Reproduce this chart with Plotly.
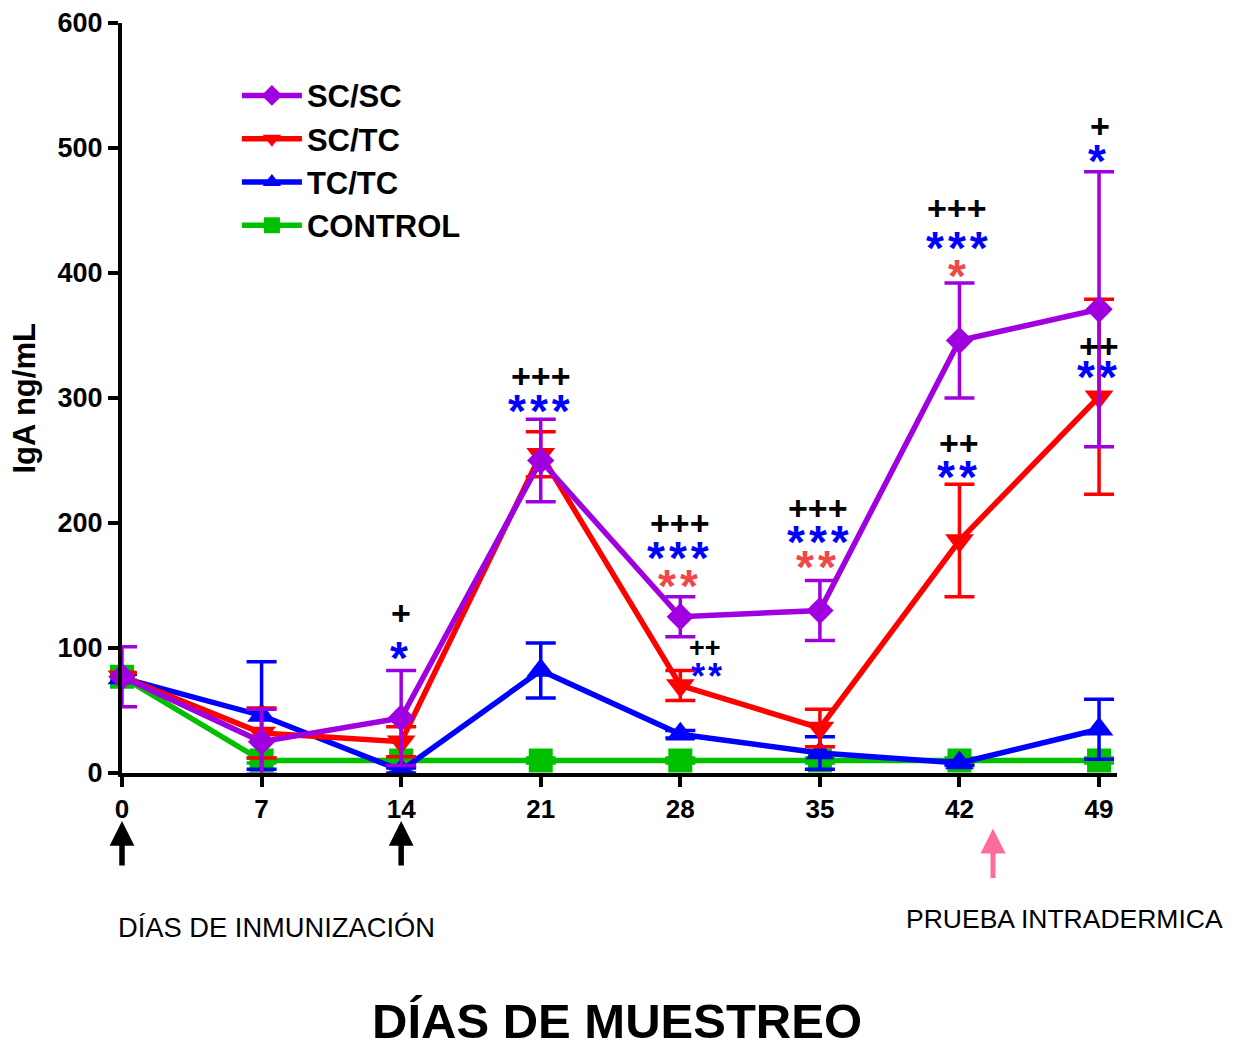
import plotly.graph_objects as go

days = [0, 7, 14, 21, 28, 35, 42, 49]
tick_labels = ["0", "7", "14", "21", "28", "35", "42", "49"]
y_ticks = [0, 100, 200, 300, 400, 500, 600]

sc_sc = [77, 25, 44, 250, 125, 130, 346, 371]
sc_sc_err = [24, 26, 38, 33, 16, 24, 46, 110]
sc_tc = [77, 32, 25, 255, 70, 36, 186, 301]
sc_tc_err = [3, 20, 12, 18, 12, 15, 45, 78]
tc_tc = [76, 46, 2, 82, 31, 16, 8, 35]
tc_tc_err = [3, 43, 2, 22, 3, 13, 2, 24]
control = [77, 10, 10, 10, 10, 10, 10, 10]
control_err = [3, 2, 2, 2, 2, 2, 2, 2]

# significance labels
sig_days = [14, 14, 21, 21, 28, 28, 28, 29.25, 29.4, 34.9, 35, 34.9,
            41.9, 42, 42, 42, 42, 49.05, 49, 49, 49]
sig_vals = [128, 100, 318, 298, 200, 180, 158, 100, 84, 212, 193, 173,
            452, 428, 406, 264, 245, 518, 498, 342, 325]
sig_text = ["+", "*", "+++", "***", "+++", "***", "**", "++", "**", "+++", "***", "**",
            "+++", "***", "*", "++", "**", "+", "*", "++", "**"]
sig_color = ["black", "blue", "black", "blue", "black", "blue", "#f04848", "black", "blue",
             "black", "blue", "#f04848", "black", "blue", "#f04848", "black", "blue",
             "black", "blue", "black", "blue"]

FONT = "Liberation Sans, Arial, sans-serif"

fig = go.Figure()

series = [
    ("CONTROL", control, control_err, "#00c000", "square", 24),
    ("TC/TC", tc_tc, tc_tc_err, "#0000ff", "triangle-up", 25),
    ("SC/TC", sc_tc, sc_tc_err, "#ff0000", "triangle-down", 25),
    ("SC/SC", sc_sc, sc_sc_err, "#a000e0", "diamond", 21),
]
for name, vals, errs, col, sym, sz in series:
    fig.add_trace(go.Scatter(
        x=days, y=vals, name=name, mode="lines+markers",
        line=dict(color=col, width=5.5),
        marker=dict(color=col, symbol=sym, size=sz, line=dict(width=0)),
        error_y=dict(type="data", array=errs, visible=True, color=col,
                     thickness=3.5, width=15),
        cliponaxis=False,
    ))

for d, yv, txt, col in zip(sig_days, sig_vals, sig_text, sig_color):
    side = 28.5 < d < 30  # smaller labels placed beside the day-28 point
    if "*" in txt:
        size = 36 if side else 46
        ls = 3 if side else 4
        fig.add_annotation(
            x=d, y=yv, xref="x", yref="y", showarrow=False,
            text=f'<b><span style="letter-spacing:{ls}px">{txt}</span></b>',
            font=dict(family=FONT, size=size, color=col), yshift=-int(size * 0.23),
        )
    else:
        size = 27 if side else 34
        fig.add_annotation(
            x=d, y=yv, xref="x", yref="y", showarrow=False,
            text=f"<b>{txt}</b>", font=dict(family=FONT, size=size, color=col),
        )

# arrows below the axis
for d in [0, 14]:
    fig.add_annotation(x=d, y=-0.064, xref="x", yref="paper", ax=0, ay=46,
                       text="", showarrow=True, arrowhead=2, arrowsize=0.9,
                       arrowwidth=5.5, arrowcolor="black")
fig.add_annotation(x=43.68, y=-0.074, xref="x", yref="paper", ax=0, ay=51,
                   text="", showarrow=True, arrowhead=2, arrowsize=1.0,
                   arrowwidth=5, arrowcolor="#ff6c9c")

fig.add_annotation(x=-0.006, y=-0.206, xref="paper", yref="paper",
                   text="DÍAS DE INMUNIZACIÓN", showarrow=False,
                   xanchor="left", yanchor="middle",
                   font=dict(family=FONT, size=27.3, color="black"))
fig.add_annotation(x=0.7855, y=-0.195, xref="paper", yref="paper",
                   text="PRUEBA INTRADERMICA", showarrow=False,
                   xanchor="left", yanchor="middle",
                   font=dict(family=FONT, size=26.5, color="black"))
fig.add_annotation(x=0.4975, y=-0.331, xref="paper", yref="paper",
                   text="<b>DÍAS DE MUESTREO</b>", showarrow=False,
                   xanchor="center", yanchor="middle",
                   font=dict(family=FONT, size=49, color="black"))
fig.add_annotation(x=-0.098, y=0.5, xref="paper", yref="paper",
                   text="<b>IgA ng/mL</b>", showarrow=False, textangle=-90,
                   xanchor="center", yanchor="middle",
                   font=dict(family=FONT, size=31, color="black"))

fig.update_layout(
    width=1222, height=1031,
    margin=dict(l=114, r=113, t=15, b=266),
    paper_bgcolor="white", plot_bgcolor="white",
    showlegend=True,
    legend=dict(x=0.1155, y=0.939, xanchor="left", yanchor="top",
                traceorder="reversed", bgcolor="rgba(0,0,0,0)",
                font=dict(family=FONT, size=31, color="black", weight="bold"),
                itemwidth=60, tracegroupgap=0),
    font=dict(family=FONT),
)
fig.update_xaxes(range=[0, 49.9], tickvals=days, ticktext=tick_labels, automargin=False,
                 showgrid=False, zeroline=False, showline=True, linecolor="black",
                 linewidth=4, ticks="outside", ticklen=10, tickwidth=4, tickcolor="black",
                 tickfont=dict(family=FONT, size=26, color="black", weight="bold"))
fig.update_yaxes(range=[0, 600], tickvals=y_ticks, automargin=False,
                 showgrid=False, zeroline=False, showline=True, linecolor="black",
                 linewidth=4, ticks="outside", ticklen=10, tickwidth=4, tickcolor="black",
                 tickfont=dict(family=FONT, size=27, color="black", weight="bold"))

fig.write_html("out.html")
